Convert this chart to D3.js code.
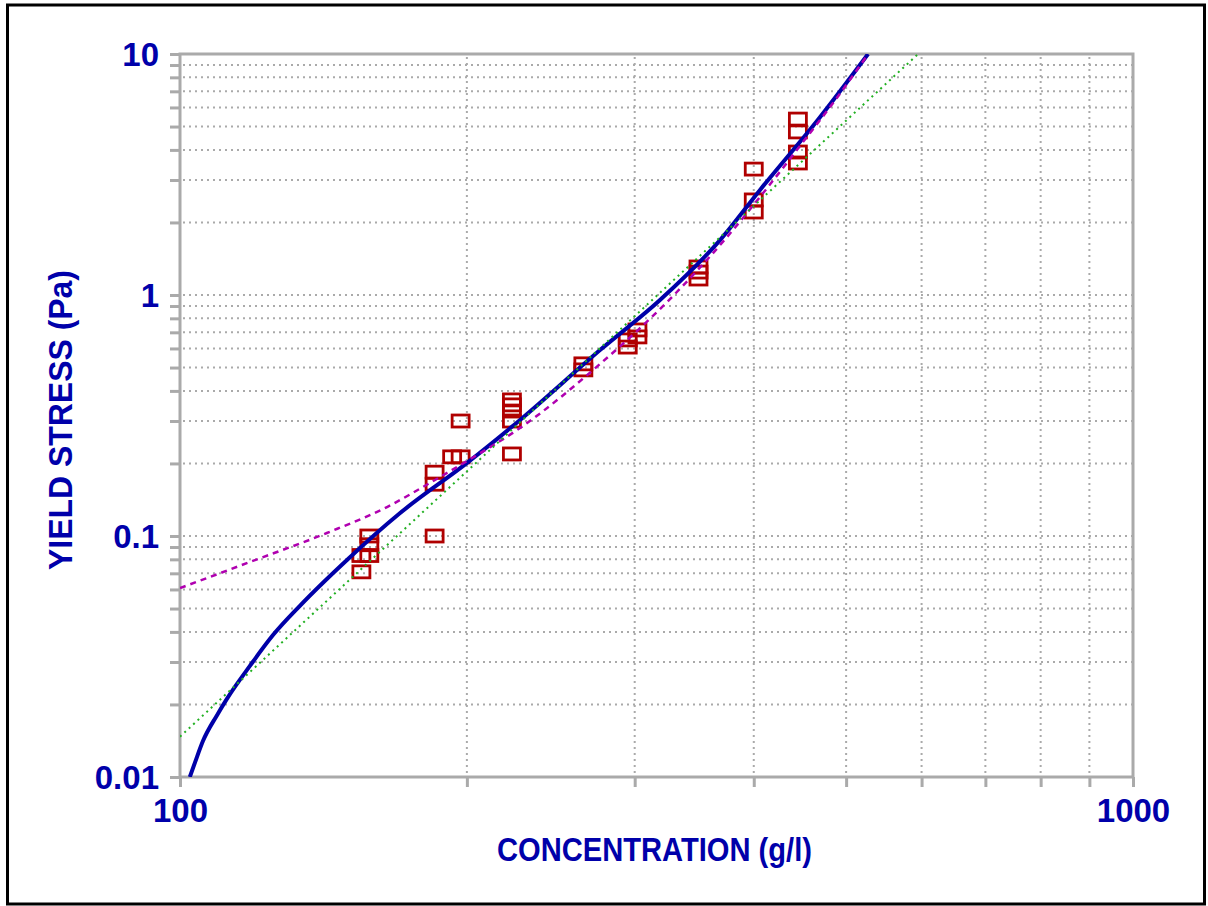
<!DOCTYPE html>
<html>
<head>
<meta charset="utf-8">
<script src="https://cdn.jsdelivr.net/npm/d3@7"></script>
<style>
  body{margin:0;background:#fff;}
  svg{display:block;}
</style>
</head>
<body>
<svg id="chart" width="1208" height="906"></svg>
<script>
//measured data (concentration g/l, yield stress Pa)
var sqConc=[155,155,158,158,158,185,185,185,193,197,197,223,223,223,223,223,265,265,295,295,302,302,350,350,350,400,400,400,445,445,445,445];
var sqStress=[0.071,0.083,0.100,0.092,0.083,0.184,0.164,0.100,0.213,0.213,0.300,0.367,0.350,0.330,0.300,0.219,0.518,0.489,0.651,0.608,0.716,0.670,1.307,1.245,1.165,3.33,2.48,2.21,5.37,4.75,3.92,3.53];

//fitted curves
var blueConc=[102.4,103.7,105.7,109.4,112.0,118.4,125.2,133.6,149.7,170.2,200.1,227.4,275.9,318.9,368.7,406.1,469.6,527.2];
var blueStress=[0.0100,0.0115,0.0141,0.0181,0.0211,0.0289,0.0388,0.0513,0.0795,0.1245,0.201,0.303,0.591,0.953,1.69,2.73,5.48,10.0];
var magConc=[100,118.4,142.6,164.9,182.9,200.1,227.4,275.9,326.7,375.0,406.1,454.9,484.5,524.7];
var magStress=[0.0608,0.0780,0.1029,0.1319,0.1660,0.2048,0.2806,0.5174,0.962,1.741,2.553,4.53,6.26,9.72];
var greenConc=[100,595];
var greenStress=[0.0147,10];

//axis ticks
var xTicks=[100,200,300,400,500,600,700,800,900,1000];
var xLabels={100:'100',1000:'1000'};
var yTicks=[];
[0.01,0.1,1].forEach(function(d){
  for(var i=1;i<10;i++) yTicks.push(+(d*i).toPrecision(3));
});
yTicks.push(10);
var yLabels={0.01:'0.01',0.1:'0.1',1:'1',10:'10'};

var blue='#0000aa';
var grey='#aaaaaa';
var svg=d3.select('#chart');

var x=d3.scaleLog().domain([100,1000]).range([180,1133]);
var y=d3.scaleLog().domain([0.01,10]).range([777,54]);

//outer frame
svg.append('rect')
  .attr('x',7.5).attr('y',5)
  .attr('width',1197).attr('height',899)
  .attr('fill','none').attr('stroke','#000').attr('stroke-width',3);

//dotted grid
svg.append('g').selectAll('line')
  .data(xTicks.filter(function(d){return d>100&&d<1000;}))
  .join('line')
  .attr('x1',d=>x(d)).attr('x2',d=>x(d))
  .attr('y1',y(10)+3).attr('y2',y(0.01))
  .attr('stroke',grey).attr('stroke-width',2).attr('stroke-dasharray','2,4');
svg.append('g').selectAll('line')
  .data(yTicks.filter(function(d){return d>0.01&&d<10;}))
  .join('line')
  .attr('x1',x(100)+3).attr('x2',x(1000))
  .attr('y1',d=>y(d)).attr('y2',d=>y(d))
  .attr('stroke',grey).attr('stroke-width',2).attr('stroke-dasharray','2,4');

//axes
var yAxis=d3.axisLeft(y).tickValues(yTicks).tickSize(10).tickPadding(11)
  .tickFormat(d=>yLabels[d]||'');
var xAxis=d3.axisBottom(x).tickValues(xTicks).tickSize(10).tickPadding(12)
  .tickFormat(d=>xLabels[d]||'');
var gy=svg.append('g').attr('transform','translate('+x(100)+',0)').call(yAxis);
var gx=svg.append('g').attr('transform','translate(0,'+y(0.01)+')').call(xAxis);
[gx,gy].forEach(function(g){
  g.select('.domain').remove();
  g.selectAll('line').attr('stroke',grey).attr('stroke-width',3);
  g.selectAll('text')
    .attr('fill',blue)
    .style('font-family','"Liberation Sans", Arial, sans-serif')
    .style('font-weight','bold')
    .style('font-size','33px');
});
gy.selectAll('text').attr('dy','0.36em');

//plot box
svg.append('rect')
  .attr('x',x(100)).attr('y',y(10))
  .attr('width',x(1000)-x(100)).attr('height',y(0.01)-y(10))
  .attr('fill','none').attr('stroke',grey).attr('stroke-width',3);

//axis titles
svg.append('text')
  .attr('x',497).attr('y',861)
  .attr('textLength',315).attr('lengthAdjust','spacingAndGlyphs')
  .attr('fill',blue)
  .style('font-family','"Liberation Sans", Arial, sans-serif')
  .style('font-weight','bold').style('font-size','34px')
  .text('CONCENTRATION (g/l)');
svg.append('text')
  .attr('transform','translate(72,570) rotate(-90)')
  .attr('textLength',300).attr('lengthAdjust','spacingAndGlyphs')
  .attr('fill',blue)
  .style('font-family','"Liberation Sans", Arial, sans-serif')
  .style('font-weight','bold').style('font-size','34px')
  .text('YIELD STRESS (Pa)');

//clip for curves
svg.append('clipPath').attr('id','plotclip')
  .append('rect')
  .attr('x',x(100)).attr('y',y(10))
  .attr('width',x(1000)-x(100)).attr('height',y(0.01)-y(10));

//data squares
svg.append('g').selectAll('rect')
  .data(sqConc.map((c,i)=>({c:c,s:sqStress[i]})))
  .join('rect')
  .attr('x',d=>x(d.c)-8.5).attr('y',d=>y(d.s)-6)
  .attr('width',17).attr('height',12)
  .attr('fill','none').attr('stroke','#b00000').attr('stroke-width',2.8);

function pts(cs,ss){return cs.map((c,i)=>({c:c,s:ss[i]}));}
var line=d3.line()
  .x(d=>x(d.c))
  .y(d=>y(d.s))
  .curve(d3.curveMonotoneX);

var curves=svg.append('g').attr('clip-path','url(#plotclip)');
curves.append('path').datum(pts(blueConc,blueStress))
  .attr('d',line).attr('fill','none')
  .attr('stroke','#0000a8').attr('stroke-width',4);
curves.append('path').datum(pts(magConc,magStress))
  .attr('d',line).attr('fill','none')
  .attr('stroke','#b000b0').attr('stroke-width',2.5).attr('stroke-dasharray','6,5');
curves.append('path').datum(pts(greenConc,greenStress))
  .attr('d',line).attr('fill','none')
  .attr('stroke','#22b022').attr('stroke-width',2).attr('stroke-dasharray','2,4');
</script>
</body>
</html>
